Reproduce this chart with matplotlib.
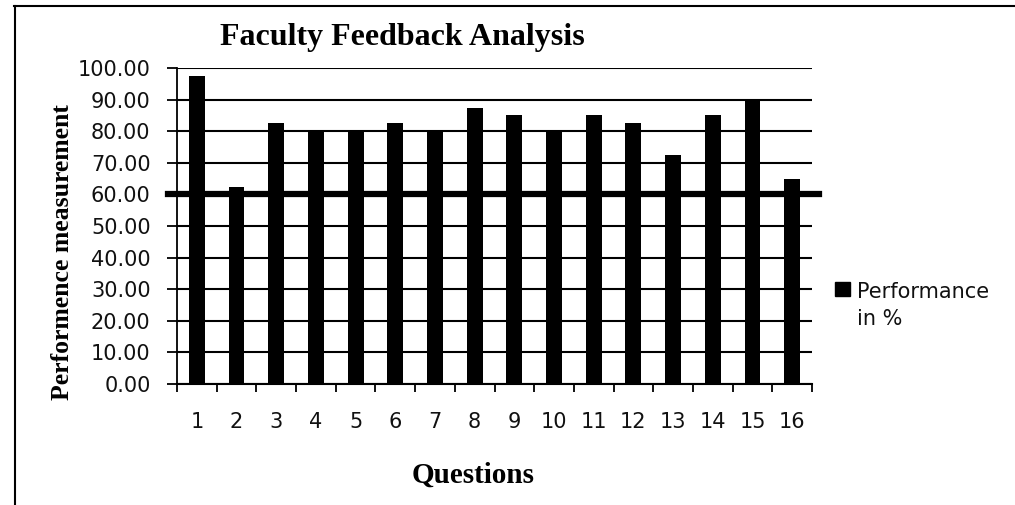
import matplotlib
matplotlib.use("Agg")
import matplotlib.pyplot as plt
from matplotlib.lines import Line2D
from matplotlib.patches import Rectangle
import numpy as np

questions = [str(i) for i in range(1, 17)]
performance = [97.5, 62.5, 82.5, 80, 80, 82.5, 80, 87.5, 85, 80, 85, 82.5, 72.5, 85, 90, 65]
threshold = 60
yticks = [0, 10, 20, 30, 40, 50, 60, 70, 80, 90, 100]
legend_label = "Performance\nin %"

W, H = 1015, 505
fig = plt.figure(figsize=(W / 100, H / 100), dpi=100)
ax = fig.add_axes([177 / W, 1 - 384 / H, (812 - 177) / W, (384 - 68) / H])

x = np.arange(1, len(questions) + 1)
ax.bar(x, performance, width=0.4, color="black", zorder=3)

ax.set_xlim(0.5, len(questions) + 0.5)
ax.set_ylim(0, 100)
ax.set_yticks(yticks)
ax.set_yticklabels([f"{v:.2f}" for v in yticks])
ax.set_xticks(x)
ax.set_xticklabels(questions)
ax.set_xticks(np.arange(0.5, len(questions) + 1, 1), minor=True)

ax.grid(axis="y", color="black", lw=1.5, zorder=1)
for s in ["top", "right"]:
    ax.spines[s].set_visible(False)
ax.spines["left"].set_linewidth(1.3)
ax.spines["bottom"].set_linewidth(1.5)

ax.tick_params(axis="x", which="major", length=0, pad=20)
ax.tick_params(axis="x", which="minor", length=6, width=1.3, direction="out")
ax.tick_params(axis="y", length=7, width=1.3, direction="out", pad=12)
for lab in ax.get_xticklabels() + ax.get_yticklabels():
    lab.set_fontfamily("DejaVu Sans")
    lab.set_fontsize(15)
    lab.set_color("#111111")

ax.axhline(threshold, xmin=-0.014, xmax=1.011, lw=4.5, color="black",
           clip_on=False, zorder=4)

fig.text(402 / W, 1 - 38 / H, "Faculty Feedback Analysis", ha="center", va="center",
         family="Liberation Serif", weight="bold", fontsize=23)
fig.text(63 / W, 1 - 252 / H, "Performence measurement", ha="center", va="center",
         rotation=90, family="Liberation Serif", weight="bold", fontsize=18.5)
fig.text(473 / W, 1 - 475 / H, "Questions", ha="center", va="center",
         family="Liberation Serif", weight="bold", fontsize=21)

# legend (drawn manually to match the Excel layout)
fig.add_artist(Rectangle((835 / W, 1 - 296 / H), 15 / W, 14 / H, color="black",
                         transform=fig.transFigure))
fig.text(857 / W, 1 - 282 / H, legend_label, ha="left", va="top",
         family="DejaVu Sans", fontsize=15, color="#111111", linespacing=1.45)

fig.add_artist(Line2D([14.5 / W, 14.5 / W], [0, 1 - 5.5 / H], color="black", lw=1.5,
                      transform=fig.transFigure))
fig.add_artist(Line2D([14 / W, 1], [1 - 5.5 / H, 1 - 5.5 / H], color="black", lw=1.5,
                      transform=fig.transFigure))

fig.savefig("out.png", dpi=100)
